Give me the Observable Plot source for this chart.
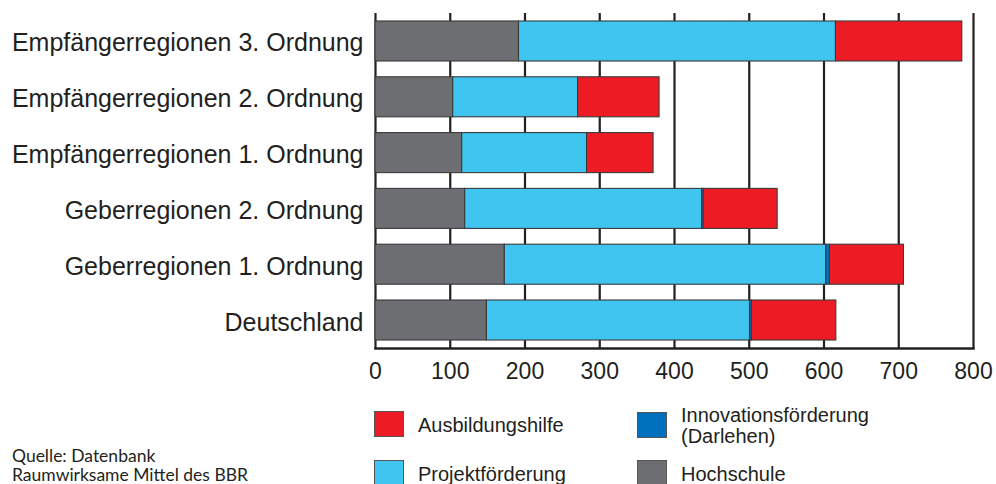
<!DOCTYPE html>
<html>
<head>
<meta charset="utf-8">
<script src="https://cdn.jsdelivr.net/npm/d3@7"></script>
<script src="https://cdn.jsdelivr.net/npm/@observablehq/plot@0.6"></script>
<style>
  html, body { margin: 0; padding: 0; background: #fff; }
  #wrap { position: relative; width: 996px; height: 484px; overflow: hidden; font-family: "Liberation Sans", Arial, sans-serif; color: #231f20; }
  #chart { position: absolute; left: 0; top: 0; }
  .sw { position: absolute; width: 30px; height: 26px; border: 1px solid #555; box-sizing: border-box; }
  .lt { position: absolute; font-size: 20px; line-height: 21px; white-space: nowrap; }
  .src { position: absolute; left: 12px; top: 446px; font-family: Lato, "Open Sans", sans-serif; font-weight: 400; font-size: 17.5px; line-height: 19px; color: #231f20; white-space: nowrap; }
</style>
</head>
<body>
<div id="wrap">
  <div id="chart"></div>
  <div id="legend"></div>
  <div class="src">Quelle: Datenbank<br>Raumwirksame Mittel des BBR</div>
</div>
<script>
const regions = [
  "Empfängerregionen 3. Ordnung",
  "Empfängerregionen 2. Ordnung",
  "Empfängerregionen 1. Ordnung",
  "Geberregionen 2. Ordnung",
  "Geberregionen 1. Ordnung",
  "Deutschland"
];
const types = ["Hochschule", "Projektförderung", "Innovationsförderung (Darlehen)", "Ausbildungshilfe"];
const typeColors = ["#6d6e71", "#3fc5f0", "#0071bc", "#ed1c24"];
const hochschule = [192, 104, 116, 120, 173, 149];
const projektfoerderung = [424, 167, 167, 317, 430, 352];
const innovationsfoerderung = [0, 0, 0, 2, 5, 2.5];
const ausbildungshilfe = [169, 109, 89, 99, 99, 113];
const xTicks = [0, 100, 200, 300, 400, 500, 600, 700, 800];

const series = [hochschule, projektfoerderung, innovationsfoerderung, ausbildungshilfe];
const data = [];
regions.forEach((r, i) => {
  series.forEach((s, j) => {
    if (s[i] > 0) data.push({region: r, type: types[j], value: s[i]});
  });
});

const ink = "#231f20";
const chart = Plot.plot({
  width: 996,
  height: 395,
  marginLeft: 375,
  marginRight: 23,
  marginTop: 13,
  marginBottom: 47,
  style: {fontFamily: "'Liberation Sans', Arial, sans-serif", color: ink, background: "#fff"},
  x: {domain: [0, 800]},
  y: {domain: regions, paddingInner: 0.283, paddingOuter: 0.143, round: false},
  color: {domain: types, range: typeColors},
  marks: [
    Plot.gridX(xTicks, {stroke: ink, strokeOpacity: 1, strokeWidth: 2.2}),
    Plot.barX(data, Plot.stackX({x: "value", y: "region", fill: "type", stroke: "#3a3a3a", strokeWidth: 1.1})),
    Plot.frame({anchor: "bottom", stroke: ink, strokeWidth: 2.6}),
    Plot.axisX({ticks: xTicks, tickSize: 0, tickPadding: 14, fontSize: 23, label: null, fill: ink}),
    Plot.axisY({tickSize: 0, tickPadding: 12, fontSize: 25, dy: 2, label: null, fill: ink})
  ]
});
document.getElementById("chart").appendChild(chart);

// legend (HTML, below the SVG)
const legendItems = [
  {label: "Ausbildungshilfe", color: typeColors[3], sx: 374, sy: 411, tx: 418, ty: 414.5},
  {label: "Innovationsförderung<br>(Darlehen)", color: typeColors[2], sx: 637, sy: 412, tx: 681, ty: 405},
  {label: "Projektförderung", color: typeColors[1], sx: 374, sy: 460, tx: 418, ty: 463.5},
  {label: "Hochschule", color: typeColors[0], sx: 637, sy: 460, tx: 681, ty: 463.5}
];
const lg = document.getElementById("legend");
legendItems.forEach(d => {
  const s = document.createElement("div");
  s.className = "sw";
  s.style.left = d.sx + "px"; s.style.top = d.sy + "px"; s.style.background = d.color;
  lg.appendChild(s);
  const t = document.createElement("div");
  t.className = "lt";
  t.style.left = d.tx + "px"; t.style.top = d.ty + "px";
  t.innerHTML = d.label;
  lg.appendChild(t);
});
</script>
</body>
</html>
